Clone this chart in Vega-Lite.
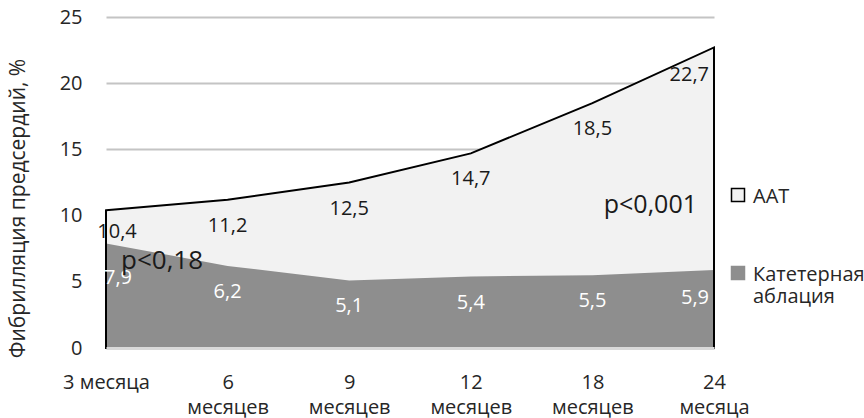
{
  "$schema": "https://vega.github.io/schema/vega-lite/v6.json",
  "width": 608,
  "height": 331,
  "autosize": {"type": "none"},
  "padding": {"left": 106, "top": 17, "right": 150, "bottom": 70},
  "config": {
    "font": "Open Sans",
    "view": {"stroke": null},
    "locale": {"number": {"decimal": ",", "thousands": " ", "grouping": [3], "currency": ["", ""]}},
    "text": {"fontSize": 20}
  },
  "data": {
    "values": [
      {"t": "3 месяца", "s": "AAT", "v": 10.4},
      {"t": "6 месяцев", "s": "AAT", "v": 11.2},
      {"t": "9 месяцев", "s": "AAT", "v": 12.5},
      {"t": "12 месяцев", "s": "AAT", "v": 14.7},
      {"t": "18 месяцев", "s": "AAT", "v": 18.5},
      {"t": "24 месяца", "s": "AAT", "v": 22.7},
      {"t": "3 месяца", "s": "Катетерная аблация", "v": 7.9},
      {"t": "6 месяцев", "s": "Катетерная аблация", "v": 6.2},
      {"t": "9 месяцев", "s": "Катетерная аблация", "v": 5.1},
      {"t": "12 месяцев", "s": "Катетерная аблация", "v": 5.4},
      {"t": "18 месяцев", "s": "Катетерная аблация", "v": 5.5},
      {"t": "24 месяца", "s": "Катетерная аблация", "v": 5.9}
    ]
  },
  "encoding": {
    "x": {
      "field": "t",
      "type": "ordinal",
      "sort": null,
      "scale": {
        "type": "point",
        "padding": 0,
        "domain": ["3 месяца", "6 месяцев", "9 месяцев", "12 месяцев", "18 месяцев", "24 месяца"]
      },
      "axis": {
        "title": null,
        "zindex": 1,
        "domainColor": "#d9d9d9",
        "domainWidth": 3,
        "ticks": false,
        "labelAngle": 0,
        "labelPadding": 24,
        "labelFontSize": 20,
        "labelLineHeight": 25,
        "labelColor": "#262626",
        "labelLimit": 300,
        "labelExpr": "datum.value === '3 месяца' ? datum.value : split(datum.value, ' ')"
      }
    },
    "y": {
      "field": "v",
      "type": "quantitative",
      "scale": {"domain": [0, 25]},
      "axis": {
        "title": "Фибрилляция предсердий, %",
        "titleFontSize": 21,
        "titleFontWeight": "normal",
        "titleColor": "#262626",
        "titleX": -88,
        "titleY": 191,
        "titleBaseline": "middle",
        "values": [0, 5, 10, 15, 20, 25],
        "grid": true,
        "gridColor": "#c4c4c4",
        "gridWidth": 2,
        "domain": false,
        "ticks": false,
        "labelPadding": 24,
        "labelFontSize": 20,
        "labelColor": "#262626"
      }
    }
  },
  "layer": [
    {
      "transform": [{"filter": "datum.s === 'AAT'"}],
      "mark": {"type": "area", "opacity": 1},
      "encoding": {
        "color": {
          "field": "s",
          "type": "nominal",
          "scale": {"domain": ["AAT", "Катетерная аблация"], "range": ["#f2f2f2", "#8e8e8e"]},
          "legend": {
            "orient": "none",
            "legendX": 622,
            "legendY": 168,
            "title": null,
            "symbolType": "square",
            "symbolSize": 169,
            "symbolOpacity": 1,
            "labelFontSize": 20,
            "labelColor": "#262626",
            "labelOffset": 5,
            "labelBaseline": "top",
            "labelLimit": 200,
            "rowPadding": 56,
            "labelExpr": "datum.label === 'Катетерная аблация' ? ['Катетерная', 'аблация'] : datum.label",
            "encode": {
              "labels": {"update": {"dy": {"value": -8}}},
              "symbols": {
                "update": {
                  "stroke": {"signal": "datum.value === 'AAT' ? '#000000' : '#8e8e8e'"},
                  "strokeWidth": {"value": 1.5},
                  "fill": {"signal": "datum.value === 'AAT' ? '#ffffff' : '#8e8e8e'"}
                }
              }
            }
          }
        }
      }
    },
    {
      "transform": [{"filter": "datum.s !== 'AAT'"}],
      "mark": {"type": "area", "opacity": 1},
      "encoding": {
        "color": {"field": "s", "type": "nominal"}
      }
    },
    {
      "transform": [{"filter": "datum.s === 'AAT'"}],
      "mark": {"type": "area", "fillOpacity": 0, "stroke": "#000000", "strokeWidth": 2, "strokeJoin": "miter"}
    },
    {
      "transform": [{"filter": "datum.t === '3 месяца' && datum.s === 'AAT'"}],
      "mark": {"type": "text", "align": "center", "baseline": "middle", "dx": 11, "dy": 22, "color": "#1a1a1a"},
      "encoding": {
        "text": {"field": "v", "type": "quantitative", "format": ".1f"}
      }
    },
    {
      "transform": [{"filter": "datum.t === '3 месяца' && datum.s !== 'AAT'"}],
      "mark": {"type": "text", "align": "center", "baseline": "middle", "dx": 12, "dy": 35, "color": "#ffffff"},
      "encoding": {
        "text": {"field": "v", "type": "quantitative", "format": ".1f"}
      }
    },
    {
      "transform": [{"filter": "datum.t !== '3 месяца' && datum.t !== '24 месяца'"}],
      "mark": {"type": "text", "align": "center", "baseline": "middle", "dy": 26},
      "encoding": {
        "text": {"field": "v", "type": "quantitative", "format": ".1f"},
        "color": {"condition": {"test": "datum.s === 'AAT'", "value": "#1a1a1a"}, "value": "#ffffff"}
      }
    },
    {
      "transform": [{"filter": "datum.t === '24 месяца'"}],
      "mark": {"type": "text", "align": "right", "baseline": "middle", "dx": -5, "dy": 28},
      "encoding": {
        "text": {"field": "v", "type": "quantitative", "format": ".1f"},
        "color": {"condition": {"test": "datum.s === 'AAT'", "value": "#1a1a1a"}, "value": "#ffffff"}
      }
    },
    {
      "data": {"values": [{"t": "3 месяца", "v": 6.6, "note": "p<0,18"}]},
      "mark": {"type": "text", "align": "left", "baseline": "middle", "dx": 15, "fontSize": 26, "color": "#1a1a1a"},
      "encoding": {"text": {"field": "note"}}
    },
    {
      "data": {"values": [{"t": "24 месяца", "v": 10.8, "note": "p<0,001"}]},
      "mark": {"type": "text", "align": "right", "baseline": "middle", "dx": -17, "fontSize": 25, "color": "#1a1a1a"},
      "encoding": {"text": {"field": "note"}}
    }
  ]
}
